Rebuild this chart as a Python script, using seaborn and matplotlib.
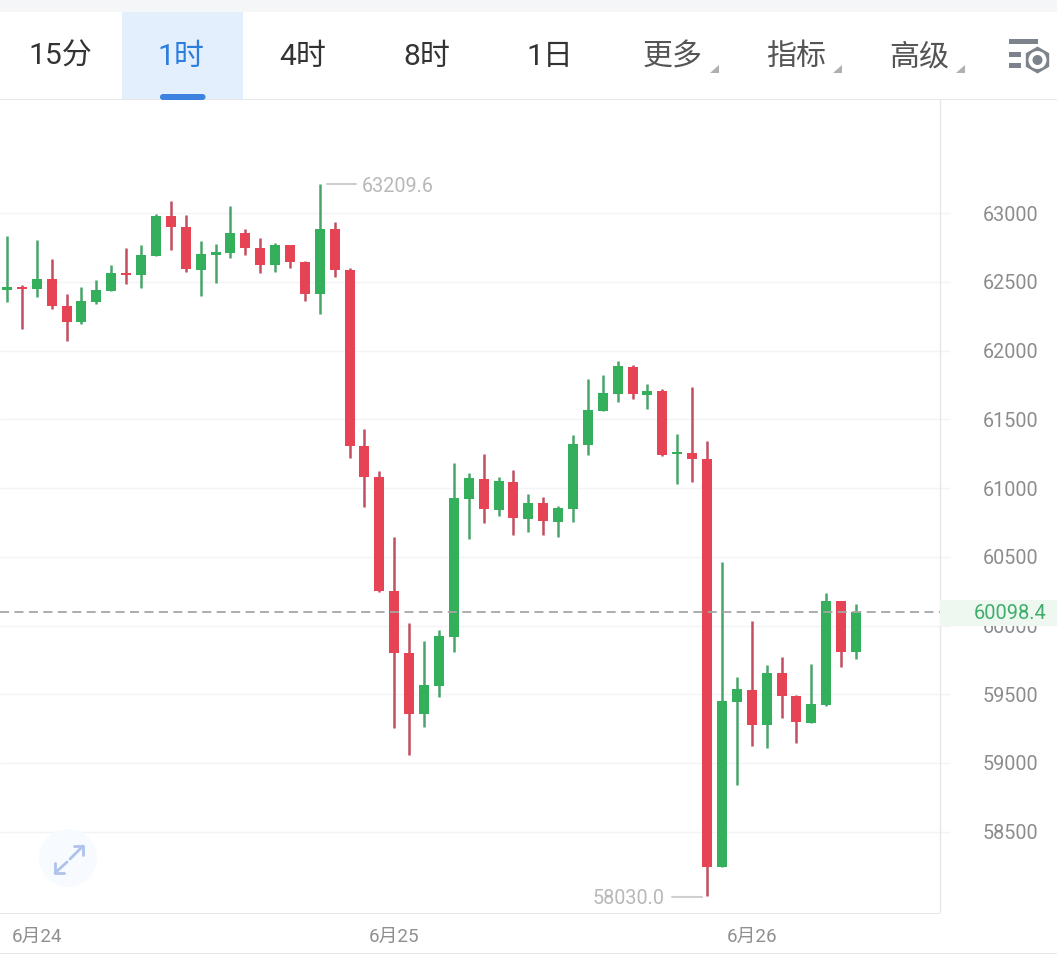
import pandas as pd
import matplotlib
matplotlib.use('Agg')
import matplotlib.pyplot as plt
from matplotlib.patches import Rectangle, FancyBboxPatch, Circle, RegularPolygon, Polygon
import seaborn as sns

# one value per hourly candle
open_p = [62442, 62464, 62449, 62520, 62324, 62209, 62355, 62435, 62564, 62551,
          62689, 62978, 62898, 62588, 62695, 62711, 62855, 62745, 62624, 62767,
          62644, 62413, 62884, 62588, 61305, 61080, 60251, 59800, 59359, 59562,
          59919, 60922, 61065, 60842, 61044, 60777, 60891, 60755, 60849, 61315,
          61562, 61686, 61880, 61679, 61708, 61247, 61255, 61211, 58246, 59446,
          59531, 59279, 59655, 59487, 59293, 59422, 60178, 59810]
close_p = [62462, 62449, 62520, 62326, 62209, 62360, 62440, 62564, 62549, 62695,
           62978, 62900, 62595, 62702, 62716, 62855, 62748, 62624, 62767, 62646,
           62413, 62884, 62588, 61308, 61082, 60251, 59802, 59359, 59567, 59924,
           60927, 61073, 60849, 61051, 60784, 60891, 60762, 60855, 61320, 61567,
           61691, 61887, 61686, 61705, 61240, 61262, 61213, 58246, 59451, 59538,
           59279, 59655, 59489, 59300, 59429, 60178, 59810, 60098.4]
high_p = [62833, 62476, 62804, 62665, 62409, 62462, 62511, 62620, 62743, 62765,
          62993, 63085, 62983, 62796, 62772, 63049, 62881, 62816, 62780, 62767,
          62651, 63209.6, 62932, 62598, 61429, 61124, 60646, 60016, 59887, 59967,
          61180, 61107, 61245, 61078, 61129, 60954, 60932, 60867, 61383, 61791,
          61822, 61924, 61895, 61756, 61720, 61393, 61735, 61342, 60462, 59625,
          60033, 59713, 59771, 59495, 59720, 60236, 60178, 60156]
low_p = [62355, 62159, 62391, 62300, 62071, 62195, 62340, 62435, 62486, 62457,
         62689, 62733, 62569, 62399, 62493, 62675, 62697, 62566, 62573, 62602,
         62362, 62268, 62537, 61220, 60864, 60244, 59257, 59060, 59264, 59482,
         59810, 60631, 60748, 60799, 60660, 60682, 60660, 60646, 60755, 61242,
         61562, 61628, 61649, 61577, 61231, 61031, 61046, 58030, 58246, 58840,
         59126, 59111, 59329, 59148, 59293, 59417, 59701, 59759]

price_ticks = [58500, 59000, 59500, 60000, 60500, 61000, 61500, 62000, 62500, 63000]
date_labels = ['6月24', '6月25', '6月26']
date_candles = [2, 26, 50]
tabs = ['15分', '1时', '4时', '8时', '1日', '更多', '指标', '高级']
tab_x = [60, 181, 303, 427, 550, 673, 796, 919]
last_price = 60098.4
max_price = 63209.6
min_price = 58030.0

GREEN = '#34B05C'
RED = '#E64354'
GREEN_WICK = '#48A56A'
RED_WICK = '#C24E60'
GRID = '#F3F4F6'
LINE = '#E6E7EA'

W, H = 1057, 957
sns.set_theme(style='white')
plt.rcParams['font.family'] = ['Roboto', 'Noto Sans CJK SC', 'DejaVu Sans']

df = pd.DataFrame({'candle': range(len(open_p)), 'open': open_p, 'close': close_p,
                   'high': high_p, 'low': low_p})
df['side'] = ['up' if c >= o else 'down' for o, c in zip(df['open'], df['close'])]
wicks = df.melt(id_vars=['candle', 'side'], value_vars=['high', 'low'], value_name='price')
bodies = df.melt(id_vars=['candle', 'side'], value_vars=['open', 'close'], value_name='price')

fig = plt.figure(figsize=(W / 100, H / 100), dpi=100)
fig.patch.set_facecolor('white')
ax = fig.add_axes([0, (H - 913) / H, 1, (913 - 100) / H])

# pixel mapping of the chart: candle 0 at x=7, 14.895 px per candle, 0.1375 px per price unit
ax.set_xlim(-7 / 14.895, (W - 7) / 14.895)
ax.set_ylim(63000 - 700 / 0.1375, 63000 + 113 / 0.1375)

ax.hlines(price_ticks, 0, 950 / W, transform=ax.get_yaxis_transform(), color=GRID, lw=1, zorder=1)
ax.axvline((940 - 7) / 14.895, color=LINE, lw=1, zorder=1)

sns.lineplot(data=wicks, x='candle', y='price', units='candle', estimator=None, hue='side',
             palette={'up': GREEN_WICK, 'down': RED_WICK}, linewidth=1.8, legend=False,
             solid_capstyle='butt', ax=ax, zorder=3)
sns.lineplot(data=bodies, x='candle', y='price', units='candle', estimator=None, hue='side',
             palette={'up': GREEN, 'down': RED}, linewidth=7.2, legend=False,
             solid_capstyle='butt', ax=ax, zorder=4)

ax.hlines(last_price, 0, 940 / W, transform=ax.get_yaxis_transform(), color='#A6A6A6', lw=1.3,
          linestyles=(0, (5, 3)), zorder=5)

sns.despine(ax=ax, left=True, right=True, top=True, bottom=True)
ax.set_xlabel('')
ax.set_ylabel('')
ax.yaxis.tick_right()
ax.set_yticks(price_ticks)
ax.set_yticklabels([str(p) for p in price_ticks])
ax.tick_params(axis='y', length=0, pad=-53.5, labelsize=14.2, labelcolor='#8C8C8C')
ax.set_xticks(date_candles)
ax.set_xticklabels(date_labels)
ax.tick_params(axis='x', length=0, pad=11, labelsize=13.5, labelcolor='#8F8F8F')
ax.patch.set_alpha(0)

# toolbar, price tag and buttons on an overlay in pixel coordinates
ui = fig.add_axes([0, 0, 1, 1], zorder=5)
ui.set_xlim(0, W)
ui.set_ylim(H, 0)
ui.axis('off')
ui.patch.set_alpha(0)

ui.add_patch(Rectangle((0, 0), W, 12, color='#F5F6F8', lw=0))
ui.add_patch(Rectangle((0, 99), W, 1.2, color=LINE, lw=0))
ui.add_patch(Rectangle((122, 12), 121, 87, color='#E3EFFD', lw=0))
ui.add_patch(FancyBboxPatch((160, 94), 45.5, 6, boxstyle='round,pad=0,rounding_size=3', color='#3D82DE', lw=0))
ui.add_patch(Rectangle((0, 913), 940, 1.2, color=LINE, lw=0))
ui.add_patch(Rectangle((0, 953), W, 1.2, color=LINE, lw=0))

for i, (name, x) in enumerate(zip(tabs, tab_x)):
    color = '#2C7EDC' if i == 1 else ('#333333' if i < 5 else '#555555')
    ui.text(x, 57, name, ha='center', va='center', fontsize=21.6, color=color)
for x in [710, 833, 956]:
    ui.add_patch(Polygon([(x + 9, 65), (x + 9, 73), (x, 73)], color='#AEB0B3', lw=0))

# settings icon
ui.add_patch(Rectangle((1009, 39), 29, 5, color='#7D838C', lw=0))
ui.add_patch(Rectangle((1009, 52), 12, 5, color='#7D838C', lw=0))
ui.add_patch(Rectangle((1009, 63), 12, 5, color='#7D838C', lw=0))
ui.add_patch(RegularPolygon((1037.5, 60), 6, radius=13.5, color='#7D838C', lw=0))
ui.add_patch(Circle((1037.5, 60), 9, color='white', lw=0))
ui.add_patch(Circle((1037.5, 60), 5, color='#7D838C', lw=0))

# last price tag hides part of the 60000 tick label
ui.add_patch(Rectangle((940, 600), W - 940, 26, color='#EEF8F1', lw=0))
ui.text(1010, 613.5, '60098.4', ha='center', va='center', fontsize=14.4, color='#3FAE6B')

# high and low markers
ui.plot([327, 356], [184, 184], color='#CFCFCF', lw=1.5)
ui.text(362, 187, f'{max_price:.1f}', ha='left', va='center', fontsize=14.2, color='#B8B8B8')
ui.plot([672, 702], [897, 897], color='#CFCFCF', lw=1.5)
ui.text(665, 899, f'{min_price:.1f}', ha='right', va='center', fontsize=14.2, color='#B8B8B8')

# expand button
ui.add_patch(Circle((68, 858), 29, color='#F7FAFE', lw=0))
ui.plot([70, 83], [859, 846], color='#AFC3EA', lw=2)
ui.plot([74, 83, 83], [846, 846, 855], color='#AFC3EA', lw=2)
ui.plot([55, 67], [873, 862], color='#AFC3EA', lw=2)
ui.plot([55, 55, 64], [863, 873, 873], color='#AFC3EA', lw=2)

fig.savefig('out.png', dpi=100, facecolor='white')
